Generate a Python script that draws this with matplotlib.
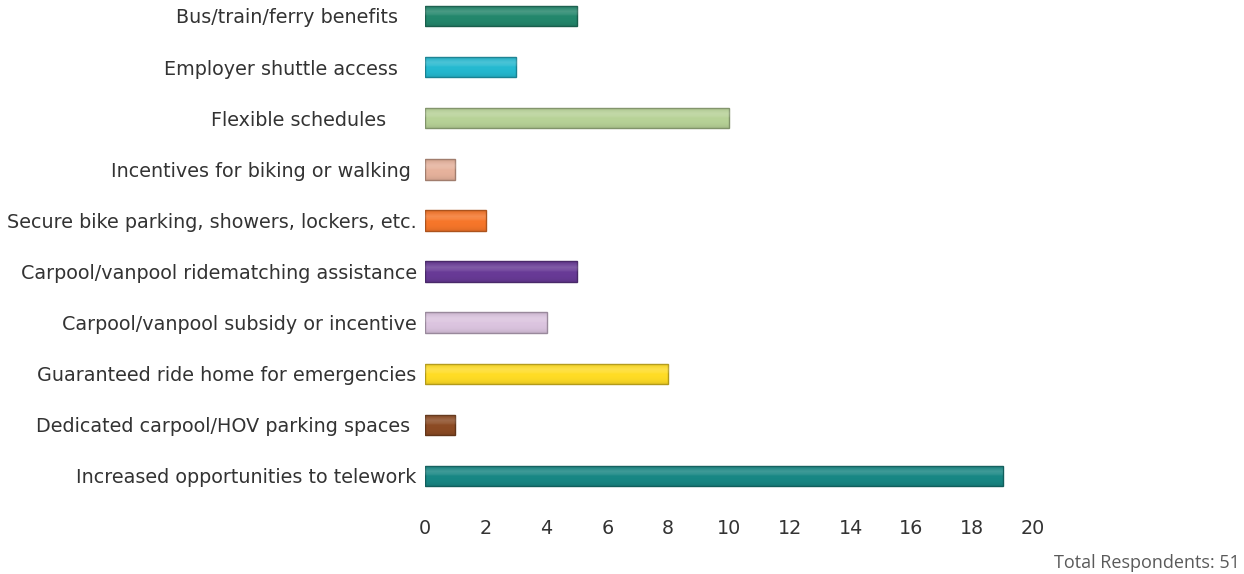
import numpy as np
import matplotlib.pyplot as plt
from matplotlib.colors import to_rgb

plt.rcParams["font.family"] = "DejaVu Sans"

categories = [
    "Bus/train/ferry benefits   ",
    "Employer shuttle access   ",
    "Flexible schedules     ",
    "Incentives for biking or walking ",
    "Secure bike parking, showers, lockers, etc.",
    "Carpool/vanpool ridematching assistance",
    "Carpool/vanpool subsidy or incentive",
    "Guaranteed ride home for emergencies",
    "Dedicated carpool/HOV parking spaces ",
    "Increased opportunities to telework",
]
counts = [5, 3, 10, 1, 2, 5, 4, 8, 1, 19]
colors = ["#23876c", "#25b9d0", "#b7d297", "#e6b29c", "#f6762a",
          "#683a96", "#dbc4df", "#ffdc25", "#8c4b24", "#188784"]
total_respondents = 51

fig = plt.figure(figsize=(12.44, 5.74), dpi=100)
ax = fig.add_axes([425 / 1244, 74 / 574, 608 / 1244, 500 / 574])

y = np.arange(len(categories))
bars = ax.barh(y, counts, height=0.4, color=colors, zorder=2)

# soft vertical shading on each bar, plus a darker rim
grad = np.linspace(0, 1, 64)
for bar, c in zip(bars, colors):
    r, g, b = to_rgb(c)
    dark = (r * 0.7, g * 0.7, b * 0.7)
    bar.set_edgecolor(dark)
    bar.set_linewidth(1.0)
    x0, y0 = bar.get_x(), bar.get_y()
    w, h = bar.get_width(), bar.get_height()
    shade = np.zeros((64, 1, 4))
    # light at the top part, darker toward the edges
    a = np.where(grad < 0.5, 0.18 * (1 - np.abs(grad - 0.3) / 0.3).clip(0), 0.0)
    shade[:, 0, :3] = 1.0
    shade[:, 0, 3] = a
    im = ax.imshow(shade, extent=(x0, x0 + w, y0 + h, y0), aspect="auto",
                   interpolation="bilinear", zorder=3)
    im.set_clip_path(bar)
    edge = np.zeros((64, 1, 4))
    edge[:, 0, :3] = dark
    edge[:, 0, 3] = 0.35 * (np.abs(grad - 0.5) / 0.5) ** 3
    im2 = ax.imshow(edge, extent=(x0, x0 + w, y0 + h, y0), aspect="auto",
                    interpolation="bilinear", zorder=3)
    im2.set_clip_path(bar)

ax.set_xlim(0, 20)
ax.set_ylim(9.47, -0.313)
ax.set_xticks(range(0, 21, 2))
ax.set_yticks(y)
ax.set_yticklabels(categories)
ax.tick_params(axis="both", length=0, labelsize=13.8, labelcolor="#333333")
ax.tick_params(axis="x", pad=14)
ax.tick_params(axis="y", pad=6)
for s in ax.spines.values():
    s.set_visible(False)

fig.text(1240 / 1244, 1 - 563 / 574, f"Total Respondents: {total_respondents}",
         ha="right", va="center", fontsize=13, color="#5a5a5a", family="Open Sans")

fig.savefig("out.png", dpi=100)
